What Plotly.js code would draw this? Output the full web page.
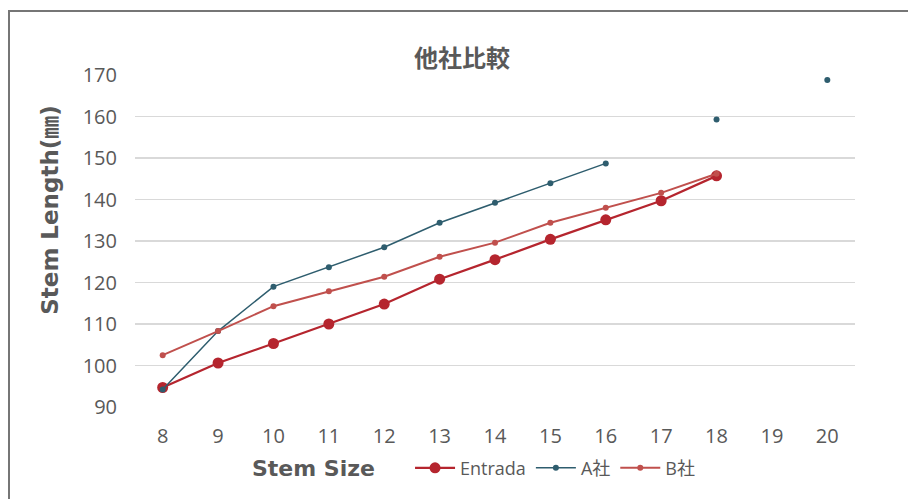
<!DOCTYPE html>
<html>
<head>
<meta charset="utf-8">
<script src="https://cdn.plot.ly/plotly-3.0.1.min.js"></script>
<style>
  html, body { margin: 0; padding: 0; background: #fff; overflow: hidden; }
  #chart { position: absolute; left: 0; top: 0; width: 908px; height: 499px; }
  #frame { position: absolute; left: 8px; top: 10px; width: 1000px; height: 600px;
           border: 2px solid #767676; pointer-events: none; }
</style>
</head>
<body>
<div id="chart"></div>
<div id="frame"></div>
<script>
const stemSizes = [8, 9, 10, 11, 12, 13, 14, 15, 16, 17, 18, 19, 20];
const entrada = [94.7, 100.6, 105.3, 110.0, 114.8, 120.8, 125.5, 130.4, 135.1, 139.7, 145.7, null, null];
const companyA = [94.2, 108.3, 119.0, 123.7, 128.5, 134.4, 139.2, 143.9, 148.7, null, 159.3, null, 168.8];
const companyB = [102.5, 108.3, 114.3, 117.9, 121.4, 126.2, 129.6, 134.4, 138.0, 141.6, 146.2, null, null];
const seriesNames = ['Entrada', 'A社', 'B社'];
const yTicks = [90, 100, 110, 120, 130, 140, 150, 160, 170];

const txt = '#595959';
const fontFam = 'DejaVu Sans, "Noto Sans CJK JP", sans-serif';
const tickFam = '"Open Sans", "Noto Sans CJK JP", sans-serif';

const traces = [
  { x: stemSizes, y: entrada, name: seriesNames[0], type: 'scatter', mode: 'lines+markers',
    line: { color: '#B5252E', width: 2.25 }, marker: { color: '#B5252E', size: 11 }, connectgaps: false },
  { x: stemSizes, y: companyA, name: seriesNames[1], type: 'scatter', mode: 'lines+markers',
    line: { color: '#2E5D6E', width: 1.5 }, marker: { color: '#2E5D6E', size: 6 }, connectgaps: false },
  { x: stemSizes, y: companyB, name: seriesNames[2], type: 'scatter', mode: 'lines+markers',
    line: { color: '#C0504D', width: 2 }, marker: { color: '#C0504D', size: 6 }, connectgaps: false }
];

const layout = {
  width: 908, height: 499,
  margin: { l: 135, r: 53, t: 75, b: 89 },
  paper_bgcolor: '#fff', plot_bgcolor: '#fff',
  font: { family: fontFam, color: txt, size: 18 },
  title: { text: '<b>他社比較</b>', font: { family: '"Noto Sans CJK JP", sans-serif', size: 24, color: txt },
           x: (462 - 135) / 720, xanchor: 'center', xref: 'paper', y: 1 - 59 / 499, yanchor: 'middle', yref: 'container' },
  xaxis: {
    range: [7.5, 20.5], tickvals: stemSizes, ticktext: stemSizes.map(String),
    showgrid: false, zeroline: false, showline: false, ticks: '',
    tickfont: { size: 20, color: txt, family: tickFam }, ticklabelstandoff: 15,
    title: { text: '' }
  },
  yaxis: {
    range: [90, 170], tickvals: yTicks, ticktext: yTicks.map(String),
    showgrid: true, gridcolor: '#D9D9D9', gridwidth: 1.3, zeroline: false, showline: false, ticks: '',
    tickfont: { size: 20, color: txt, family: tickFam }, ticklabelstandoff: 17,
    title: { text: '' }
  },
  showlegend: true,
  legend: { orientation: 'h', x: 0.382, xanchor: 'left', y: -0.184, yanchor: 'middle',
            font: { size: 18, color: txt, family: tickFam }, itemwidth: 40, tracegroupgap: 0,
            bgcolor: 'rgba(0,0,0,0)' },
  annotations: [
    { text: '<b>Stem Length(㎜)</b>', xref: 'paper', yref: 'paper', x: (50 - 135) / 720, y: (410 - 211) / 335,
      xanchor: 'center', yanchor: 'middle', textangle: -90, showarrow: false,
      font: { family: fontFam, size: 23, color: txt } },
    { text: '<b>Stem Size</b>', xref: 'paper', yref: 'paper', x: (313 - 135) / 720, y: (410 - 472) / 335,
      xanchor: 'center', yanchor: 'middle', showarrow: false,
      font: { family: fontFam, size: 22, color: txt } }
  ]
};

Plotly.newPlot('chart', traces, layout, { displayModeBar: false, staticPlot: true });
</script>
</body>
</html>
